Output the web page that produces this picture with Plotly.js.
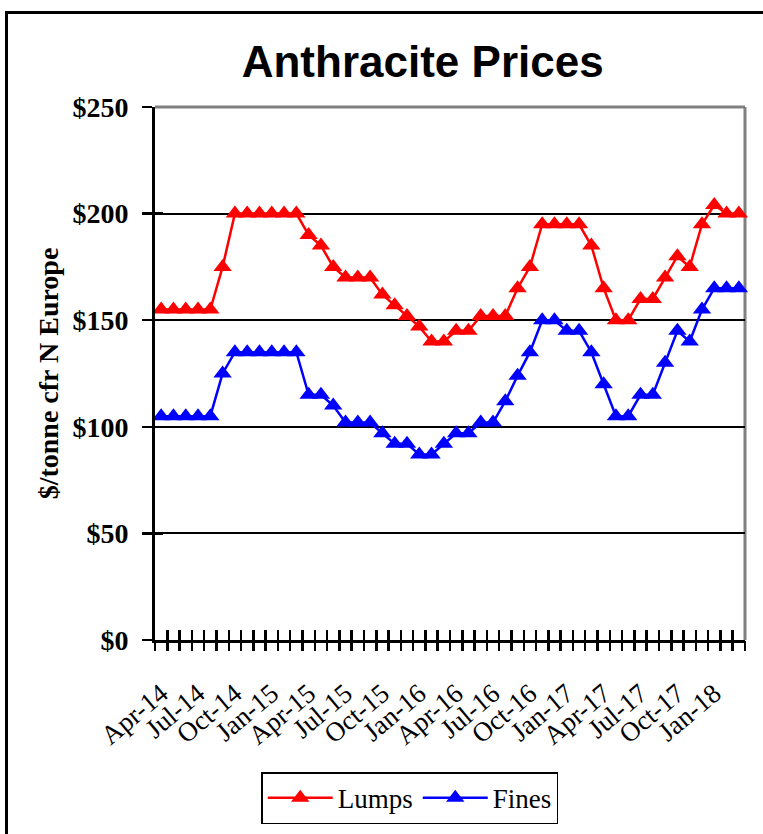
<!DOCTYPE html>
<html>
<head>
<meta charset="utf-8">
<script src="https://cdn.plot.ly/plotly-3.0.1.min.js"></script>
<style>
html,body{margin:0;padding:0;overflow:hidden;background:#fff;}
#chart{position:absolute;left:0;top:0;width:763px;height:834px;}
#frame{position:absolute;left:5px;top:11px;width:900px;height:900px;border:3px solid #000;pointer-events:none;}
</style>
</head>
<body>
<div id="chart"></div>
<div id="frame"></div>
<script>
// Categories (monthly)
var months = ["Apr-14","May-14","Jun-14","Jul-14","Aug-14","Sep-14","Oct-14","Nov-14","Dec-14",
  "Jan-15","Feb-15","Mar-15","Apr-15","May-15","Jun-15","Jul-15","Aug-15","Sep-15","Oct-15","Nov-15","Dec-15",
  "Jan-16","Feb-16","Mar-16","Apr-16","May-16","Jun-16","Jul-16","Aug-16","Sep-16","Oct-16","Nov-16","Dec-16",
  "Jan-17","Feb-17","Mar-17","Apr-17","May-17","Jun-17","Jul-17","Aug-17","Sep-17","Oct-17","Nov-17","Dec-17",
  "Jan-18","Feb-18","Mar-18"];

// Series values ($/tonne)
var lumps = [155,155,155,155,155,175,200,200,200,200,200,200,190,185,175,170,170,170,162,157,152,147,140,140,
  145,145,152,152,152,165,175,195,195,195,195,185,165,150,150,160,160,170,180,175,195,204,200,200];
var fines = [105,105,105,105,105,125,135,135,135,135,135,135,115,115,110,102,102,102,97,92,92,87,87,92,
  97,97,102,102,112,124,135,150,150,145,145,135,120,105,105,115,115,130,145,140,155,165,165,165];

// Tick labels
var xTickLabels = ["Apr-14","Jul-14","Oct-14","Jan-15","Apr-15","Jul-15","Oct-15","Jan-16","Apr-16",
  "Jul-16","Oct-16","Jan-17","Apr-17","Jul-17","Oct-17","Jan-18"];
var yTickVals = [0,50,100,150,200,250];
var yTickText = ["$0","$50","$100","$150","$200","$250"];

var boundaries = [];
for (var k = 0; k <= months.length; k++) boundaries.push(k - 0.5);
var xr = [-0.5, months.length - 0.5];

var traces = [
  {x: months, y: lumps, name: "Lumps", type: "scatter", mode: "lines+markers", cliponaxis: false,
   line: {color: "#ff0000", width: 2.5}, marker: {symbol: "triangle-up", size: 16, color: "#ff0000"}},
  {x: months, y: fines, name: "Fines", type: "scatter", mode: "lines+markers", cliponaxis: false,
   line: {color: "#0000ff", width: 2.5}, marker: {symbol: "triangle-up", size: 16, color: "#0000ff"}},
  // empty carriers so the tick-only overlay axes are drawn
  {x: [], y: [], xaxis: "x2", yaxis: "y", type: "scatter", mode: "lines", showlegend: false, hoverinfo: "skip"},
  {x: [], y: [], xaxis: "x3", yaxis: "y", type: "scatter", mode: "lines", showlegend: false, hoverinfo: "skip"},
  {x: [], y: [], xaxis: "x", yaxis: "y2", type: "scatter", mode: "lines", showlegend: false, hoverinfo: "skip"}
];

var serif = "Liberation Serif, Times New Roman, serif";
var layout = {
  width: 763, height: 834,
  margin: {l: 155, r: 18, t: 107, b: 194},
  paper_bgcolor: "#ffffff", plot_bgcolor: "#ffffff",
  showlegend: true,
  title: {text: "<b>Anthracite Prices</b>", x: 0.554, xanchor: "center", y: 0.926, yanchor: "middle",
    font: {family: "Liberation Sans, Arial, sans-serif", size: 44, color: "#000"}},
  xaxis: {type: "category", range: xr, tickmode: "array", tickvals: xTickLabels, ticktext: xTickLabels,
    ticks: "", tickangle: -40, ticklabelstandoff: 24, showline: true, linecolor: "#000", linewidth: 3,
    showgrid: false, zeroline: false, tickfont: {family: serif, size: 27, color: "#000"}},
  xaxis2: {overlaying: "x", anchor: "y", side: "bottom", type: "linear", range: xr, tickmode: "array",
    tickvals: boundaries, ticks: "outside", ticklen: 10, tickwidth: 2.5, tickcolor: "#000",
    showticklabels: false, showgrid: false, showline: false, zeroline: false},
  xaxis3: {overlaying: "x", anchor: "y", side: "bottom", type: "linear", range: xr, tickmode: "array",
    tickvals: boundaries, ticks: "inside", ticklen: 10, tickwidth: 2.5, tickcolor: "#000",
    showticklabels: false, showgrid: false, showline: false, zeroline: false},
  yaxis: {range: [0, 250], tickmode: "array", tickvals: yTickVals, ticktext: yTickText,
    ticks: "outside", ticklen: 10, tickwidth: 2.5, tickcolor: "#000", ticklabelstandoff: 8,
    showline: true, linecolor: "#000", linewidth: 3, showgrid: true, gridcolor: "#000", gridwidth: 2,
    zeroline: false, tickfont: {family: serif, size: 28, color: "#000", weight: "bold"},
    title: {text: "<b>$/tonne cfr N Europe</b>", standoff: 6, font: {family: serif, size: 28, color: "#000"}}},
  yaxis2: {overlaying: "y", anchor: "x", side: "left", range: [0, 250], tickmode: "array", tickvals: yTickVals,
    ticks: "inside", ticklen: 8, tickwidth: 2.5, tickcolor: "#000", showticklabels: false,
    showgrid: false, showline: false, zeroline: false},
  shapes: [
    {type: "line", xref: "paper", yref: "paper", x0: 0, x1: 1, y0: 1, y1: 1, layer: "between",
     line: {color: "#808080", width: 3}},
    {type: "line", xref: "paper", yref: "paper", x0: 1, x1: 1, y0: 0, y1: 1, layer: "between",
     line: {color: "#808080", width: 3}}
  ],
  legend: {orientation: "h", xref: "container", yref: "container", x: 0.537, xanchor: "center",
    y: 0.074, yanchor: "top", bordercolor: "#000", borderwidth: 1.5, bgcolor: "#fff",
    itemwidth: 65, font: {family: serif, size: 27, color: "#000"}}
};

Plotly.newPlot("chart", traces, layout, {displayModeBar: false, staticPlot: true});
</script>
</body>
</html>
